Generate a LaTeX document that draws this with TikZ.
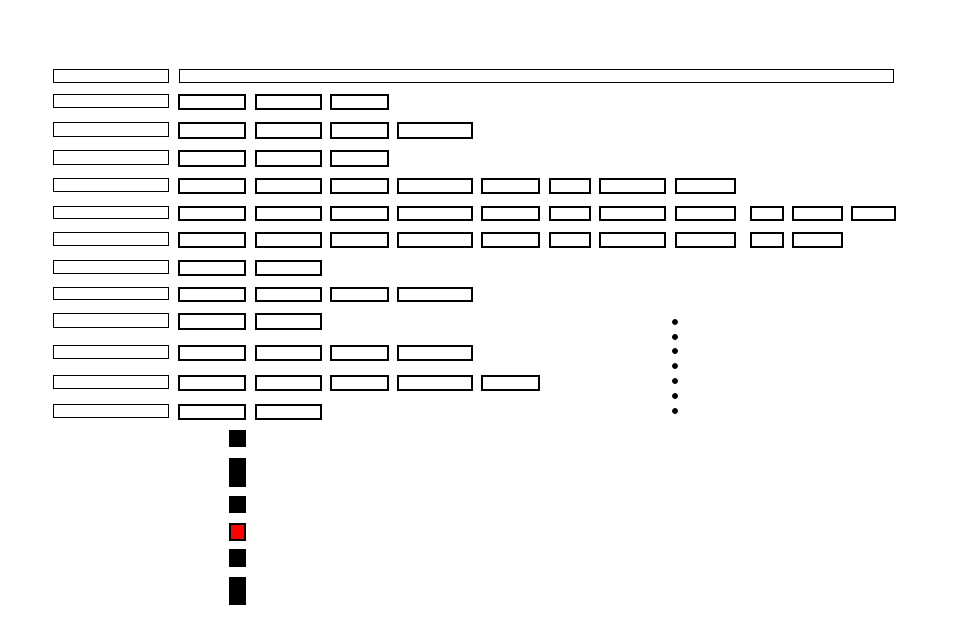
\documentclass[tikz,border=0pt]{standalone}
\begin{document}
\begin{tikzpicture}[x=0.75pt,y=-0.75pt,
  lbox/.style={draw=black,line width=0.75pt,fill=white},
  cbox/.style={draw=black,line width=1.6pt,fill=white},
  blk/.style={fill=black},
  dotm/.style={fill=black}]
\useasboundingbox (0,0) rectangle (954,636);
\fill[white] (0,0) rectangle (954,636);
% header row
\draw[lbox] (53,69) rectangle (168,82);
\draw[lbox] (179,69) rectangle (893,82);
% rows
\def\colL{{179,256,331,398,482,550,600,676,751,793,852}}
\def\colR{{245,321,388,472,539,590,665,735,783,842,895}}
\foreach \yt/\yb/\n in {95/109/3,123/138/4,151/166/3,179/193/8,207/220/11,233/247/10,261/275/2,288/301/4,314/329/2,346/360/4,376/390/5,405/419/2}{
  \draw[lbox] (53,\yt-1) rectangle (168,\yb-2);
  \foreach \i in {1,...,\n}{
    \pgfmathsetmacro\xa{\colL[\i-1]}
    \pgfmathsetmacro\xb{\colR[\i-1]}
    \draw[cbox] (\xa,\yt) rectangle (\xb,\yb);
  }
}
% squares
\fill[blk] (229,430) rectangle (246,447);
\fill[blk] (229,458) rectangle (246,487);
\fill[blk] (229,496) rectangle (246,513);
\draw[fill=red,draw=black,line width=2pt] (230,524) rectangle (245,540);
\fill[blk] (229,549) rectangle (246,567);
\fill[blk] (229,577) rectangle (246,605);
% dots
\foreach \y in {322,337,351,366,381,396,411}{
  \fill[dotm] (675,\y) circle (3);
}
\end{tikzpicture}
\end{document}
